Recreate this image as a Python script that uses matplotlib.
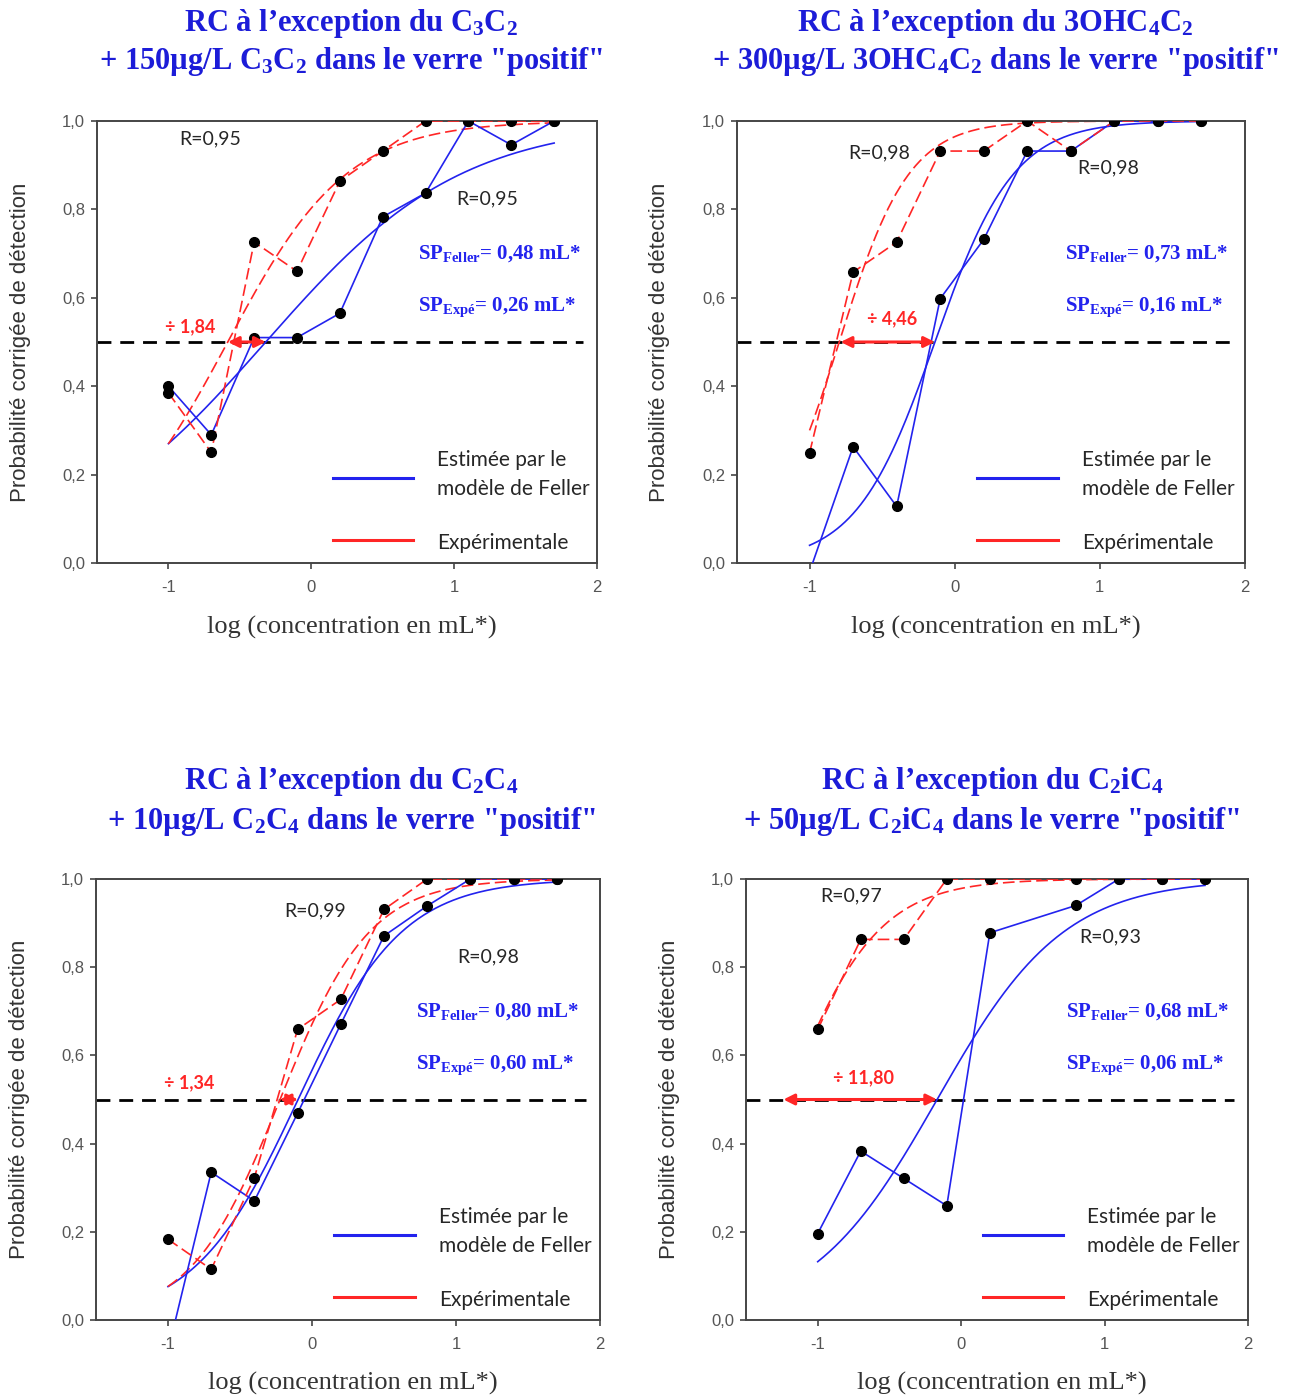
import numpy as np
import matplotlib
matplotlib.use("Agg")
import matplotlib.pyplot as plt

plt.rcParams['mathtext.fontset'] = 'custom'
plt.rcParams['mathtext.rm'] = 'Liberation Serif'
plt.rcParams['mathtext.bf'] = 'Liberation Serif:bold'
plt.rcParams['mathtext.it'] = 'Liberation Serif:italic'

# ---------------------------------------------------------------- data
# log10 of the doubling dilution series (mL*)
log_conc = [-1.0, -0.7, -0.4, -0.1, 0.2, 0.5, 0.8, 1.1, 1.4, 1.7]
log_conc_c2ic4 = [-1.0, -0.7, -0.4, -0.1, 0.2, 0.8, 1.1, 1.4, 1.7]

# corrected detection probabilities: Feller estimate / experimental
feller_c3c2 = [0.40, 0.29, 0.51, 0.51, 0.565, 0.783, 0.837, 1.0, 0.946, 1.0]
exp_c3c2 = [0.385, 0.25, 0.726, 0.66, 0.864, 0.932, 1.0, 1.0, 1.0, 1.0]

feller_3ohc4c2 = [-0.02, 0.263, 0.128, 0.598, 0.732, 0.932, 0.932, 1.0, 1.0, 1.0]
exp_3ohc4c2 = [0.249, 0.658, 0.726, 0.932, 0.932, 1.0, 0.932, 1.0, 1.0, 1.0]

feller_c2c4 = [-0.07, 0.335, 0.27, 0.469, 0.671, 0.871, 0.939, 1.0, 1.0, 1.0]
exp_c2c4 = [0.183, 0.115, 0.323, 0.659, 0.727, 0.931, 1.0, 1.0, 1.0, 1.0]

feller_c2ic4 = [0.196, 0.383, 0.321, 0.259, 0.878, 0.94, 1.0, 1.0, 1.0]
exp_c2ic4 = [0.659, 0.863, 0.863, 1.0, 1.0, 1.0, 1.0, 1.0, 1.0]

# perception thresholds (mL*), ratio, logistic slopes and correlation of the fits
sp_feller = [0.48, 0.73, 0.80, 0.68]
sp_expe = [0.26, 0.16, 0.60, 0.06]
ratios = [1.84, 4.46, 1.34, 11.80]
slope_feller = [1.46, 3.68, 2.77, 2.26]
slope_expe = [2.40, 4.15, 3.21, 3.13]
r_feller = [0.95, 0.98, 0.98, 0.93]
r_expe = [0.95, 0.98, 0.99, 0.97]

titles = [
    ("RC à l’exception du C$_\\mathbf{3}$C$_\\mathbf{2}$",
     "+ 150µg/L C$_\\mathbf{3}$C$_\\mathbf{2}$ dans le verre \"positif\""),
    ("RC à l’exception du 3OHC$_\\mathbf{4}$C$_\\mathbf{2}$",
     "+ 300µg/L 3OHC$_\\mathbf{4}$C$_\\mathbf{2}$ dans le verre \"positif\""),
    ("RC à l’exception du C$_\\mathbf{2}$C$_\\mathbf{4}$",
     "+ 10µg/L C$_\\mathbf{2}$C$_\\mathbf{4}$ dans le verre \"positif\""),
    ("RC à l’exception du C$_\\mathbf{2}$iC$_\\mathbf{4}$",
     "+ 50µg/L C$_\\mathbf{2}$iC$_\\mathbf{4}$ dans le verre \"positif\""),
]

panels = [
    (log_conc, feller_c3c2, exp_c3c2),
    (log_conc, feller_3ohc4c2, exp_3ohc4c2),
    (log_conc, feller_c2c4, exp_c2c4),
    (log_conc_c2ic4, feller_c2ic4, exp_c2ic4),
]

# ---------------------------------------------------------------- layout
W, H = 1298, 1398
fig = plt.figure(figsize=(W / 100, H / 100), dpi=100)

# axes boxes in pixels: left, top, right, bottom
boxes = [(97, 121, 597, 563), (737, 121, 1245, 563),
         (96, 879, 600, 1320), (746, 879, 1248, 1320)]
title_xy = [(351, 23, 62), (995, 23, 62), (351, 782, 821), (992, 782, 821)]

# text anchors in data coordinates
r_exp_xy = [(-0.71, 0.96), (-0.52, 0.928), (0.02, 0.928), (-0.77, 0.962)]
r_fel_xy = [(1.23, 0.823), (1.06, 0.893), (1.225, 0.823), (1.04, 0.868)]
sp_x = [0.745, 0.76, 0.72, 0.73]
ratio_xy = [(-0.85, 0.535), (-0.43, 0.552), (-0.85, 0.537), (-0.68, 0.55)]

BLUE = '#2323ee'
RED = '#ff2626'
TITLE_BLUE = '#1c1cd8'
SPINE = '#454545'
TICK_TXT = '#555555'
TXT = '#262626'

def fmt(v, nd=2):
    return f"{v:.{nd}f}".replace('.', ',')

def logistic(x, x50, k):
    return 1.0 / (1.0 + np.exp(-k * (x - x50)))

for i, (x, yf, ye) in enumerate(panels):
    l, t, r, b = boxes[i]
    ax = fig.add_axes([l / W, 1 - b / H, (r - l) / W, (b - t) / H])
    ax.set_xlim(-1.5, 2)
    ax.set_ylim(0, 1)

    # 50 % detection level
    ax.plot([-1.5, 1.9], [0.5, 0.5], color='black', lw=2.0,
            dashes=(5, 3.2), zorder=1)

    # fitted logistic curves in log concentration
    xf = np.linspace(-1.0, 1.7, 200)
    ax.plot(xf, logistic(xf, np.log10(sp_feller[i]), slope_feller[i]),
            color=BLUE, lw=1.2, zorder=2)
    ax.plot(xf, logistic(xf, np.log10(sp_expe[i]), slope_expe[i]),
            color=RED, lw=1.2, dashes=(7, 3), zorder=2)

    # observed series
    ax.plot(x, yf, color=BLUE, lw=1.2, zorder=3)
    ax.plot(x, ye, color=RED, lw=1.2, dashes=(7, 3), zorder=3)
    ax.plot(x, yf, 'o', color='black', ms=7, zorder=5)
    ax.plot(x, ye, 'o', color='black', ms=7, zorder=5)

    # ratio arrow between the two thresholds
    x_right = np.log10(sp_feller[i])
    x_left = x_right - np.log10(ratios[i])
    ax.annotate('', xy=(x_left, 0.5), xytext=(x_right, 0.5),
                arrowprops=dict(arrowstyle='<|-|>', color=RED, lw=2.2,
                                mutation_scale=16, shrinkA=0, shrinkB=0),
                zorder=6)
    ax.text(*ratio_xy[i], "÷ " + fmt(ratios[i]), color=RED,
            fontsize=13, fontweight='bold', family='Lato',
            ha='center', va='center', zorder=7)

    # correlation coefficients
    ax.text(*r_exp_xy[i], "R=" + fmt(r_expe[i]), color=TXT, fontsize=14,
            family='Lato', ha='center', va='center')
    ax.text(*r_fel_xy[i], "R=" + fmt(r_feller[i]), color=TXT, fontsize=14,
            family='Lato', ha='center', va='center')

    # thresholds
    ax.text(sp_x[i], 0.70,
            "SP$_{\\mathbf{Feller}}$= " + fmt(sp_feller[i]) + " mL*",
            color=BLUE, fontsize=15, family='Liberation Serif',
            fontweight='bold', ha='left', va='center')
    ax.text(sp_x[i], 0.578,
            "SP$_{\\mathbf{Expé}}$= " + fmt(sp_expe[i]) + " mL*",
            color=BLUE, fontsize=15, family='Liberation Serif',
            fontweight='bold', ha='left', va='center')

    # in-plot key
    ax.plot([0.472, 0.632], [0.192, 0.192], transform=ax.transAxes,
            color=BLUE, lw=2.2)
    ax.plot([0.472, 0.632], [0.053, 0.053], transform=ax.transAxes,
            color=RED, lw=2.2)
    ax.text(0.68, 0.233, "Estimée par le", transform=ax.transAxes,
            fontsize=15, family='Lato', color=TXT, ha='left', va='center')
    ax.text(0.68, 0.168, "modèle de Feller", transform=ax.transAxes,
            fontsize=15, family='Lato', color=TXT, ha='left', va='center')
    ax.text(0.68, 0.045, "Expérimentale", transform=ax.transAxes,
            fontsize=15, family='Lato', color=TXT, ha='left', va='center')

    # axes styling
    for s in ax.spines.values():
        s.set_color(SPINE)
        s.set_linewidth(1.4)
    ax.set_xticks([-1, 0, 1, 2])
    ax.set_xticklabels(['-1', '0', '1', '2'])
    yt = [0, 0.2, 0.4, 0.6, 0.8, 1.0]
    ax.set_yticks(yt)
    ax.set_yticklabels([fmt(v, 1) for v in yt])
    ax.tick_params(direction='out', length=4.5, width=1.2, color=SPINE,
                   labelcolor=TICK_TXT, labelsize=12)
    ax.tick_params(axis='x', pad=8)
    ax.tick_params(axis='y', pad=4)
    for lab in ax.get_xticklabels() + ax.get_yticklabels():
        lab.set_family(['Liberation Sans Narrow', 'Liberation Sans'])

    ax.text(-0.152, 0.5, "Probabilité corrigée de détection",
            transform=ax.transAxes, rotation=90, ha='center', va='center',
            fontsize=16, family='Liberation Sans', color='#333333')
    ax.text(0.51, -0.145, "log (concentration en mL*)",
            transform=ax.transAxes, ha='center', va='center',
            fontsize=19, family='Liberation Serif', color='#333333')

    # two-line title
    tx, ty1, ty2 = title_xy[i]
    for txt, ty in ((titles[i][0], ty1), (titles[i][1], ty2)):
        fig.text(tx / W, 1 - ty / H, txt, ha='center', va='center',
                 fontsize=22, family='Liberation Serif', fontweight='bold',
                 color=TITLE_BLUE)

fig.savefig('out.png', dpi=100, facecolor='white')
